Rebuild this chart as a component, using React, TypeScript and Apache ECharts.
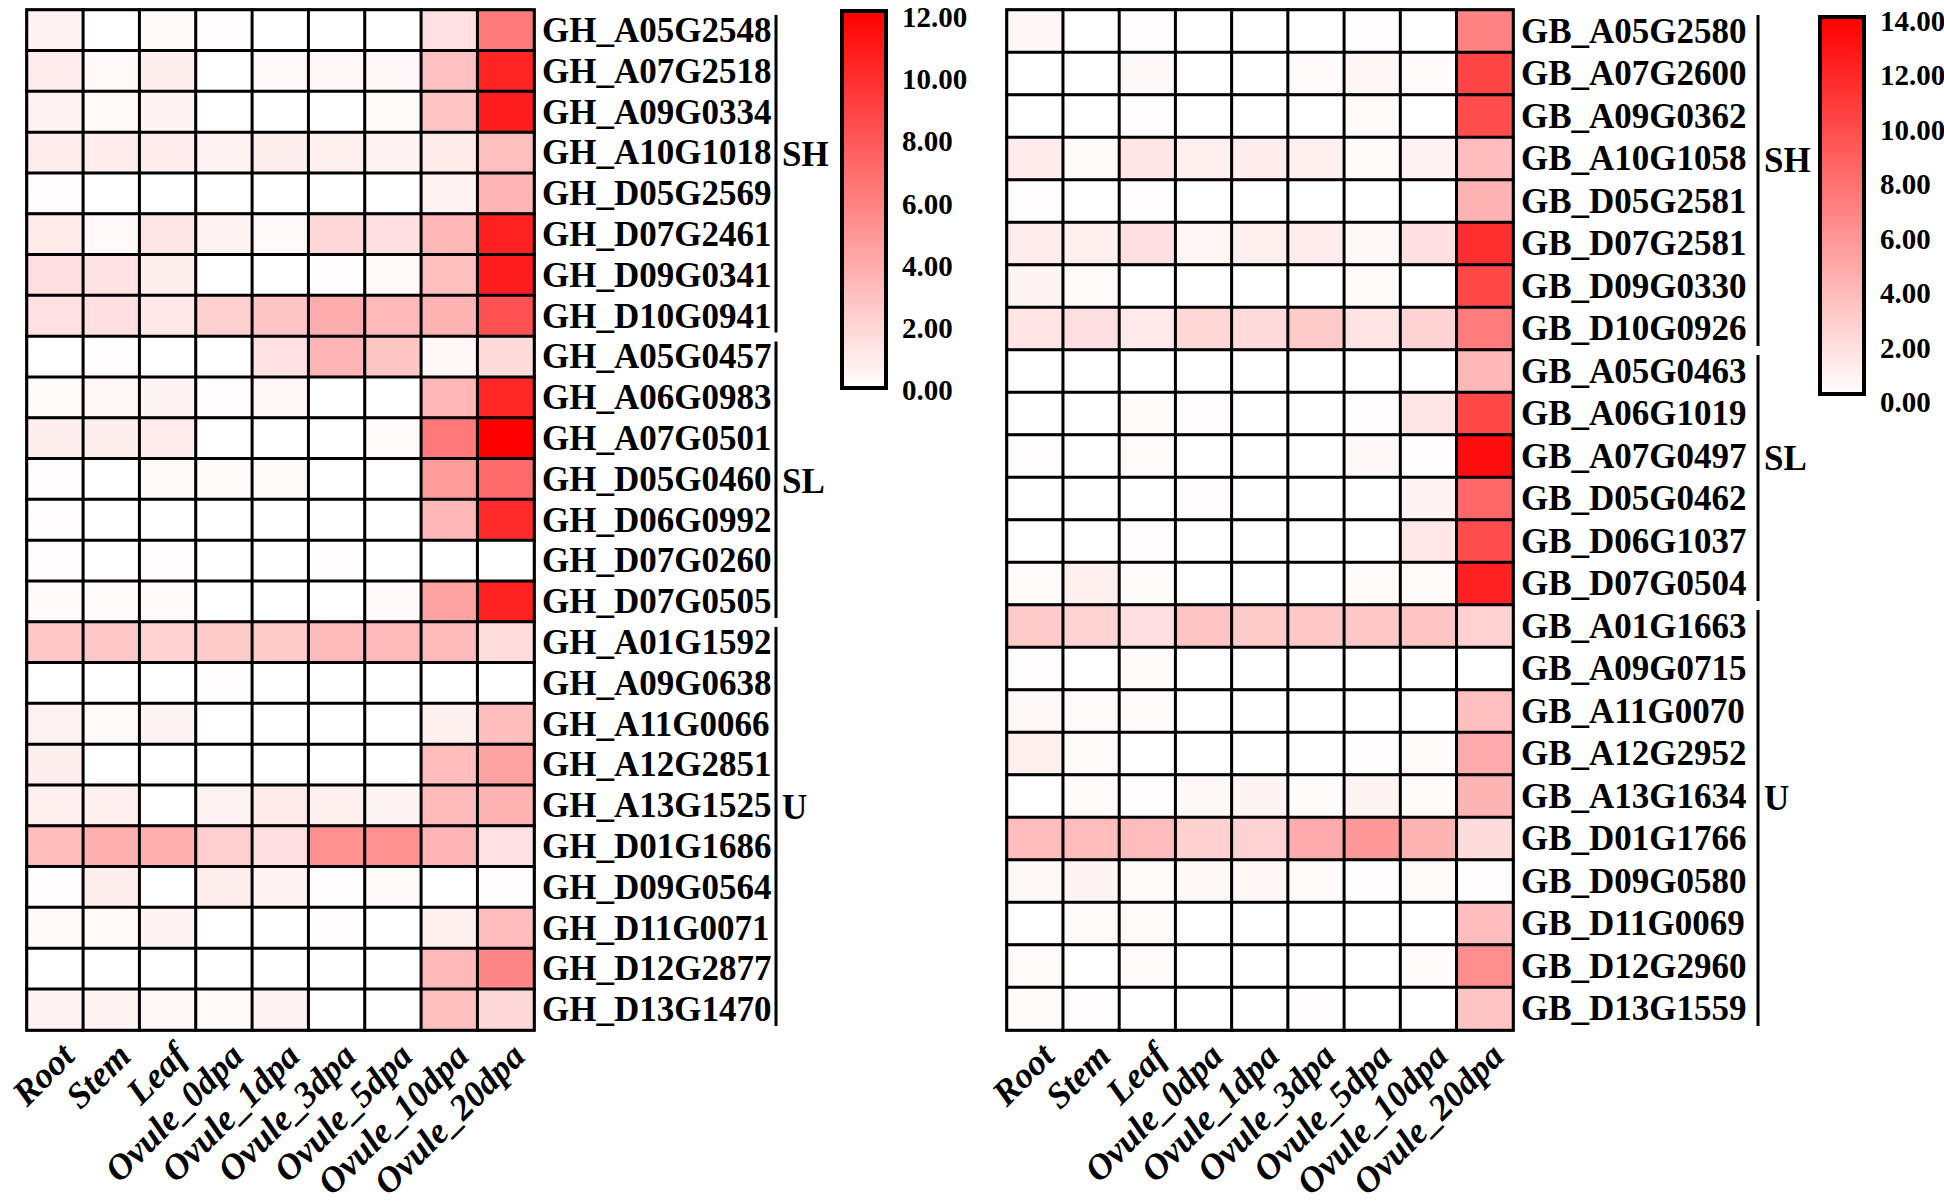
import React, { useEffect, useRef } from "react";
import * as echarts from "echarts";

const tissues = ["Root", "Stem", "Leaf", "Ovule_0dpa", "Ovule_1dpa", "Ovule_3dpa", "Ovule_5dpa", "Ovule_10dpa", "Ovule_20dpa"];

const ghGenes = [
  "GH_A05G2548", "GH_A07G2518", "GH_A09G0334", "GH_A10G1018", "GH_D05G2569", "GH_D07G2461", "GH_D09G0341", "GH_D10G0941",
  "GH_A05G0457", "GH_A06G0983", "GH_A07G0501", "GH_D05G0460", "GH_D06G0992", "GH_D07G0260", "GH_D07G0505",
  "GH_A01G1592", "GH_A09G0638", "GH_A11G0066", "GH_A12G2851", "GH_A13G1525", "GH_D01G1686", "GH_D09G0564", "GH_D11G0071", "GH_D12G2877", "GH_D13G1470",
];

const ghValues = [
  [0.5, 0, 0.3, 0.1, 0, 0, 0, 1.4, 6.2],
  [0.9, 0.3, 0.8, 0, 0.3, 0.4, 0.4, 2.9, 10.3],
  [0.6, 0.3, 0.5, 0, 0, 0, 0.2, 2.8, 10.6],
  [0.9, 0.9, 0.9, 0.5, 0.8, 0.7, 0.6, 1.0, 3.0],
  [0.1, 0, 0, 0, 0, 0, 0, 0.6, 3.5],
  [1.0, 0.3, 1.2, 0.6, 0.3, 1.8, 1.5, 3.4, 10.5],
  [1.5, 1.3, 0.8, 0, 0, 0.1, 0.3, 3.0, 10.6],
  [1.4, 1.5, 1.1, 2.2, 2.7, 3.8, 3.3, 3.6, 8.2],
  [0, 0.1, 0, 0, 1.4, 3.5, 2.7, 0.4, 1.7],
  [0.2, 0.4, 0.5, 0.1, 0.4, 0, 0, 3.4, 10.2],
  [0.8, 0.8, 0.9, 0, 0, 0, 0.2, 6.3, 12.0],
  [0.1, 0, 0.3, 0.2, 0.2, 0, 0, 4.6, 7.0],
  [0.1, 0, 0, 0, 0, 0, 0, 3.4, 10.0],
  [0.1, 0, 0.1, 0, 0, 0.1, 0, 0, 0],
  [0.3, 0.2, 0.3, 0, 0, 0, 0.3, 4.4, 10.4],
  [2.6, 2.6, 2.1, 2.5, 2.5, 3.2, 3.2, 3.2, 1.6],
  [0, 0, 0, 0.1, 0, 0, 0, 0, 0],
  [0.6, 0.3, 0.5, 0, 0, 0, 0, 0.7, 3.1],
  [0.8, 0, 0, 0, 0, 0, 0, 3.1, 4.4],
  [0.7, 0.7, 0, 0.6, 1.0, 0.7, 0.5, 3.2, 3.6],
  [3.1, 3.7, 3.7, 2.3, 1.5, 5.2, 5.2, 3.5, 1.4],
  [0.1, 0.8, 0, 0.8, 0.6, 0.1, 0.3, 0, 0.1],
  [0.3, 0.3, 0.5, 0, 0, 0.1, 0, 0.7, 3.1],
  [0, 0, 0, 0, 0, 0, 0, 3.3, 5.7],
  [0.5, 0.5, 0.4, 0.3, 0.6, 0, 0, 3.0, 1.8],
];

const ghGroups = [
  { name: "SH", start: 0, end: 7 },
  { name: "SL", start: 8, end: 14 },
  { name: "U", start: 15, end: 24 },
];

const gbGenes = [
  "GB_A05G2580", "GB_A07G2600", "GB_A09G0362", "GB_A10G1058", "GB_D05G2581", "GB_D07G2581", "GB_D09G0330", "GB_D10G0926",
  "GB_A05G0463", "GB_A06G1019", "GB_A07G0497", "GB_D05G0462", "GB_D06G1037", "GB_D07G0504",
  "GB_A01G1663", "GB_A09G0715", "GB_A11G0070", "GB_A12G2952", "GB_A13G1634", "GB_D01G1766", "GB_D09G0580", "GB_D11G0069", "GB_D12G2960", "GB_D13G1559",
];

const gbValues = [
  [0.5, 0, 0.1, 0, 0, 0, 0.1, 0, 6.8],
  [0, 0, 0.4, 0, 0, 0.3, 0.5, 0.2, 10.2],
  [0, 0, 0.1, 0, 0, 0, 0.3, 0, 9.8],
  [1.1, 0.2, 1.4, 0.9, 1.0, 0.9, 0.2, 0.7, 3.6],
  [0.1, 0, 0.1, 0, 0, 0, 0, 0, 4.2],
  [1.0, 0.8, 1.7, 0.5, 0.8, 1.0, 0.4, 1.7, 11.4],
  [0.6, 0.3, 0, 0, 0, 0, 0.2, 0, 10.0],
  [1.5, 1.7, 1.2, 2.2, 2.0, 2.9, 1.5, 2.4, 7.2],
  [0, 0, 0, 0, 0, 0, 0, 0, 3.9],
  [0, 0, 0.2, 0.1, 0, 0, 0.1, 1.4, 10.0],
  [0.1, 0, 0.3, 0, 0, 0, 0.4, 0.1, 13.3],
  [0, 0, 0, 0.1, 0, 0, 0, 0.6, 8.3],
  [0, 0, 0.1, 0, 0, 0, 0, 1.3, 9.8],
  [0.2, 0.9, 0.2, 0, 0, 0, 0.2, 0.3, 12.2],
  [2.9, 2.4, 1.7, 3.2, 2.9, 3.0, 3.0, 3.2, 2.5],
  [0.1, 0, 0.2, 0, 0, 0, 0, 0, 0],
  [0.4, 0.2, 0.2, 0, 0, 0, 0, 0, 3.5],
  [0.9, 0.3, 0, 0, 0, 0, 0.1, 0.2, 4.6],
  [0, 0.3, 0.1, 0.4, 0.6, 0.2, 0.6, 0.2, 4.1],
  [3.6, 3.6, 3.7, 2.6, 2.4, 4.6, 5.6, 4.1, 1.9],
  [0.4, 0.6, 0.2, 0.4, 0.5, 0.3, 0.1, 0.3, 0.1],
  [0, 0.2, 0.3, 0, 0, 0, 0, 0, 3.6],
  [0.3, 0, 0.2, 0, 0, 0, 0, 0.2, 6.2],
  [0.2, 0.1, 0, 0, 0, 0.1, 0, 0, 3.2],
];

const gbGroups = [
  { name: "SH", start: 0, end: 7 },
  { name: "SL", start: 8, end: 13 },
  { name: "U", start: 14, end: 23 },
];

const ghScale = { min: 0, max: 12, step: 2 };
const gbScale = { min: 0, max: 14, step: 2 };

const FONT = '"Liberation Serif", "Times New Roman", serif';

// layout
const GRID_L = { left: 27, top: 10, width: 507, height: 1020 };
const GRID_R = { left: 1007, top: 10, width: 506, height: 1020 };
const LEG_L = { x: 842, y: 11, w: 44, h: 377, labelTop: 17, labelH: 373 };
const LEG_R = { x: 1820, y: 17, w: 44, h: 377, labelTop: 21, labelH: 381 };
const BRACKET_L = 776;
const BRACKET_R = 1758;

function toHeat(values: number[][]) {
  const out: number[][] = [];
  values.forEach((row, r) => row.forEach((v, c) => out.push([c, r, v])));
  return out;
}

function groupGraphics(groups: { name: string; start: number; end: number }[], nRows: number, grid: { top: number; height: number }, bx: number) {
  const pitch = grid.height / nRows;
  const els: any[] = [];
  groups.forEach((g) => {
    const y1 = grid.top + g.start * pitch + 5;
    const y2 = grid.top + (g.end + 1) * pitch - 4;
    els.push({ type: "line", shape: { x1: bx, y1, x2: bx, y2 }, style: { stroke: "#000", lineWidth: 3 }, z: 10 });
    const mid = Math.floor((g.start + g.end) / 2);
    els.push({
      type: "text",
      x: bx + 6,
      y: grid.top + (mid + 0.5) * pitch + 2,
      style: { text: g.name, fontSize: 35, fontWeight: "bold", fontFamily: FONT, fill: "#000", align: "left", verticalAlign: "middle" },
      z: 10,
    });
  });
  return els;
}

function legendRect(l: { x: number; y: number; w: number; h: number }) {
  return {
    type: "rect",
    shape: { x: l.x, y: l.y, width: l.w, height: l.h },
    style: {
      fill: new echarts.graphic.LinearGradient(0, 0, 0, 1, [
        { offset: 0, color: "#ff0000" },
        { offset: 1, color: "#ffffff" },
      ]),
      stroke: "#000",
      lineWidth: 4,
    },
    z: 10,
  };
}

export default function App() {
  const ref = useRef<HTMLDivElement>(null);
  useEffect(() => {
    if (!ref.current) return;
    const chart = echarts.init(ref.current, undefined, { renderer: "svg" });
    const xLabel = {
      rotate: 45,
      interval: 0,
      fontSize: 36,
      fontWeight: "bold",
      fontStyle: "italic",
      fontFamily: FONT,
      color: "#000",
      margin: 7,
      verticalAlign: "top",
    };
    const yLabel = { interval: 0, fontSize: 35, fontWeight: "bold", fontFamily: FONT, color: "#000", margin: 8 };
    const legLabel = {
      fontSize: 29,
      fontWeight: "bold",
      fontFamily: FONT,
      color: "#000",
      margin: 16,
      formatter: (v: number) => v.toFixed(2),
    };
    const gridBase = { containLabel: false, outerBoundsMode: "none" };
    const option: any = {
      animation: false,
      backgroundColor: "#fff",
      textStyle: { fontFamily: FONT },
      grid: [
        { ...gridBase, ...GRID_L, show: true, borderColor: "#000", borderWidth: 3, backgroundColor: "transparent" },
        { ...gridBase, ...GRID_R, show: true, borderColor: "#000", borderWidth: 3, backgroundColor: "transparent" },
        { ...gridBase, left: LEG_L.x, top: LEG_L.labelTop, width: LEG_L.w, height: LEG_L.labelH, show: false },
        { ...gridBase, left: LEG_R.x, top: LEG_R.labelTop, width: LEG_R.w, height: LEG_R.labelH, show: false },
      ],
      xAxis: [
        { gridIndex: 0, type: "category", data: tissues, axisLine: { show: false }, axisTick: { show: false }, splitLine: { show: false }, axisLabel: xLabel },
        { gridIndex: 1, type: "category", data: tissues, axisLine: { show: false }, axisTick: { show: false }, splitLine: { show: false }, axisLabel: xLabel },
        { gridIndex: 2, type: "category", data: [""], show: false },
        { gridIndex: 3, type: "category", data: [""], show: false },
      ],
      yAxis: [
        { gridIndex: 0, type: "category", data: ghGenes, inverse: true, position: "right", axisLine: { show: false }, axisTick: { show: false }, splitLine: { show: false }, axisLabel: yLabel },
        { gridIndex: 1, type: "category", data: gbGenes, inverse: true, position: "right", axisLine: { show: false }, axisTick: { show: false }, splitLine: { show: false }, axisLabel: yLabel },
        { gridIndex: 2, type: "value", min: ghScale.min, max: ghScale.max, interval: ghScale.step, position: "right", axisLine: { show: false }, axisTick: { show: false }, splitLine: { show: false }, axisLabel: legLabel },
        { gridIndex: 3, type: "value", min: gbScale.min, max: gbScale.max, interval: gbScale.step, position: "right", axisLine: { show: false }, axisTick: { show: false }, splitLine: { show: false }, axisLabel: legLabel },
      ],
      visualMap: [
        { type: "continuous", show: false, min: ghScale.min, max: ghScale.max, seriesIndex: 0, inRange: { color: ["#ffffff", "#ff0000"] } },
        { type: "continuous", show: false, min: gbScale.min, max: gbScale.max, seriesIndex: 1, inRange: { color: ["#ffffff", "#ff0000"] } },
      ],
      series: [
        { type: "heatmap", xAxisIndex: 0, yAxisIndex: 0, data: toHeat(ghValues), itemStyle: { borderColor: "#000", borderWidth: 3 }, emphasis: { disabled: true } },
        { type: "heatmap", xAxisIndex: 1, yAxisIndex: 1, data: toHeat(gbValues), itemStyle: { borderColor: "#000", borderWidth: 3 }, emphasis: { disabled: true } },
      ],
      graphic: [
        legendRect(LEG_L),
        legendRect(LEG_R),
        ...groupGraphics(ghGroups, ghGenes.length, GRID_L, BRACKET_L),
        ...groupGraphics(gbGroups, gbGenes.length, GRID_R, BRACKET_R),
      ],
    };
    chart.setOption(option);
    return () => chart.dispose();
  }, []);
  return <div ref={ref} style={{ position: "absolute", left: 0, top: 0, width: 1944, height: 1201, background: "#fff" }} />;
}
